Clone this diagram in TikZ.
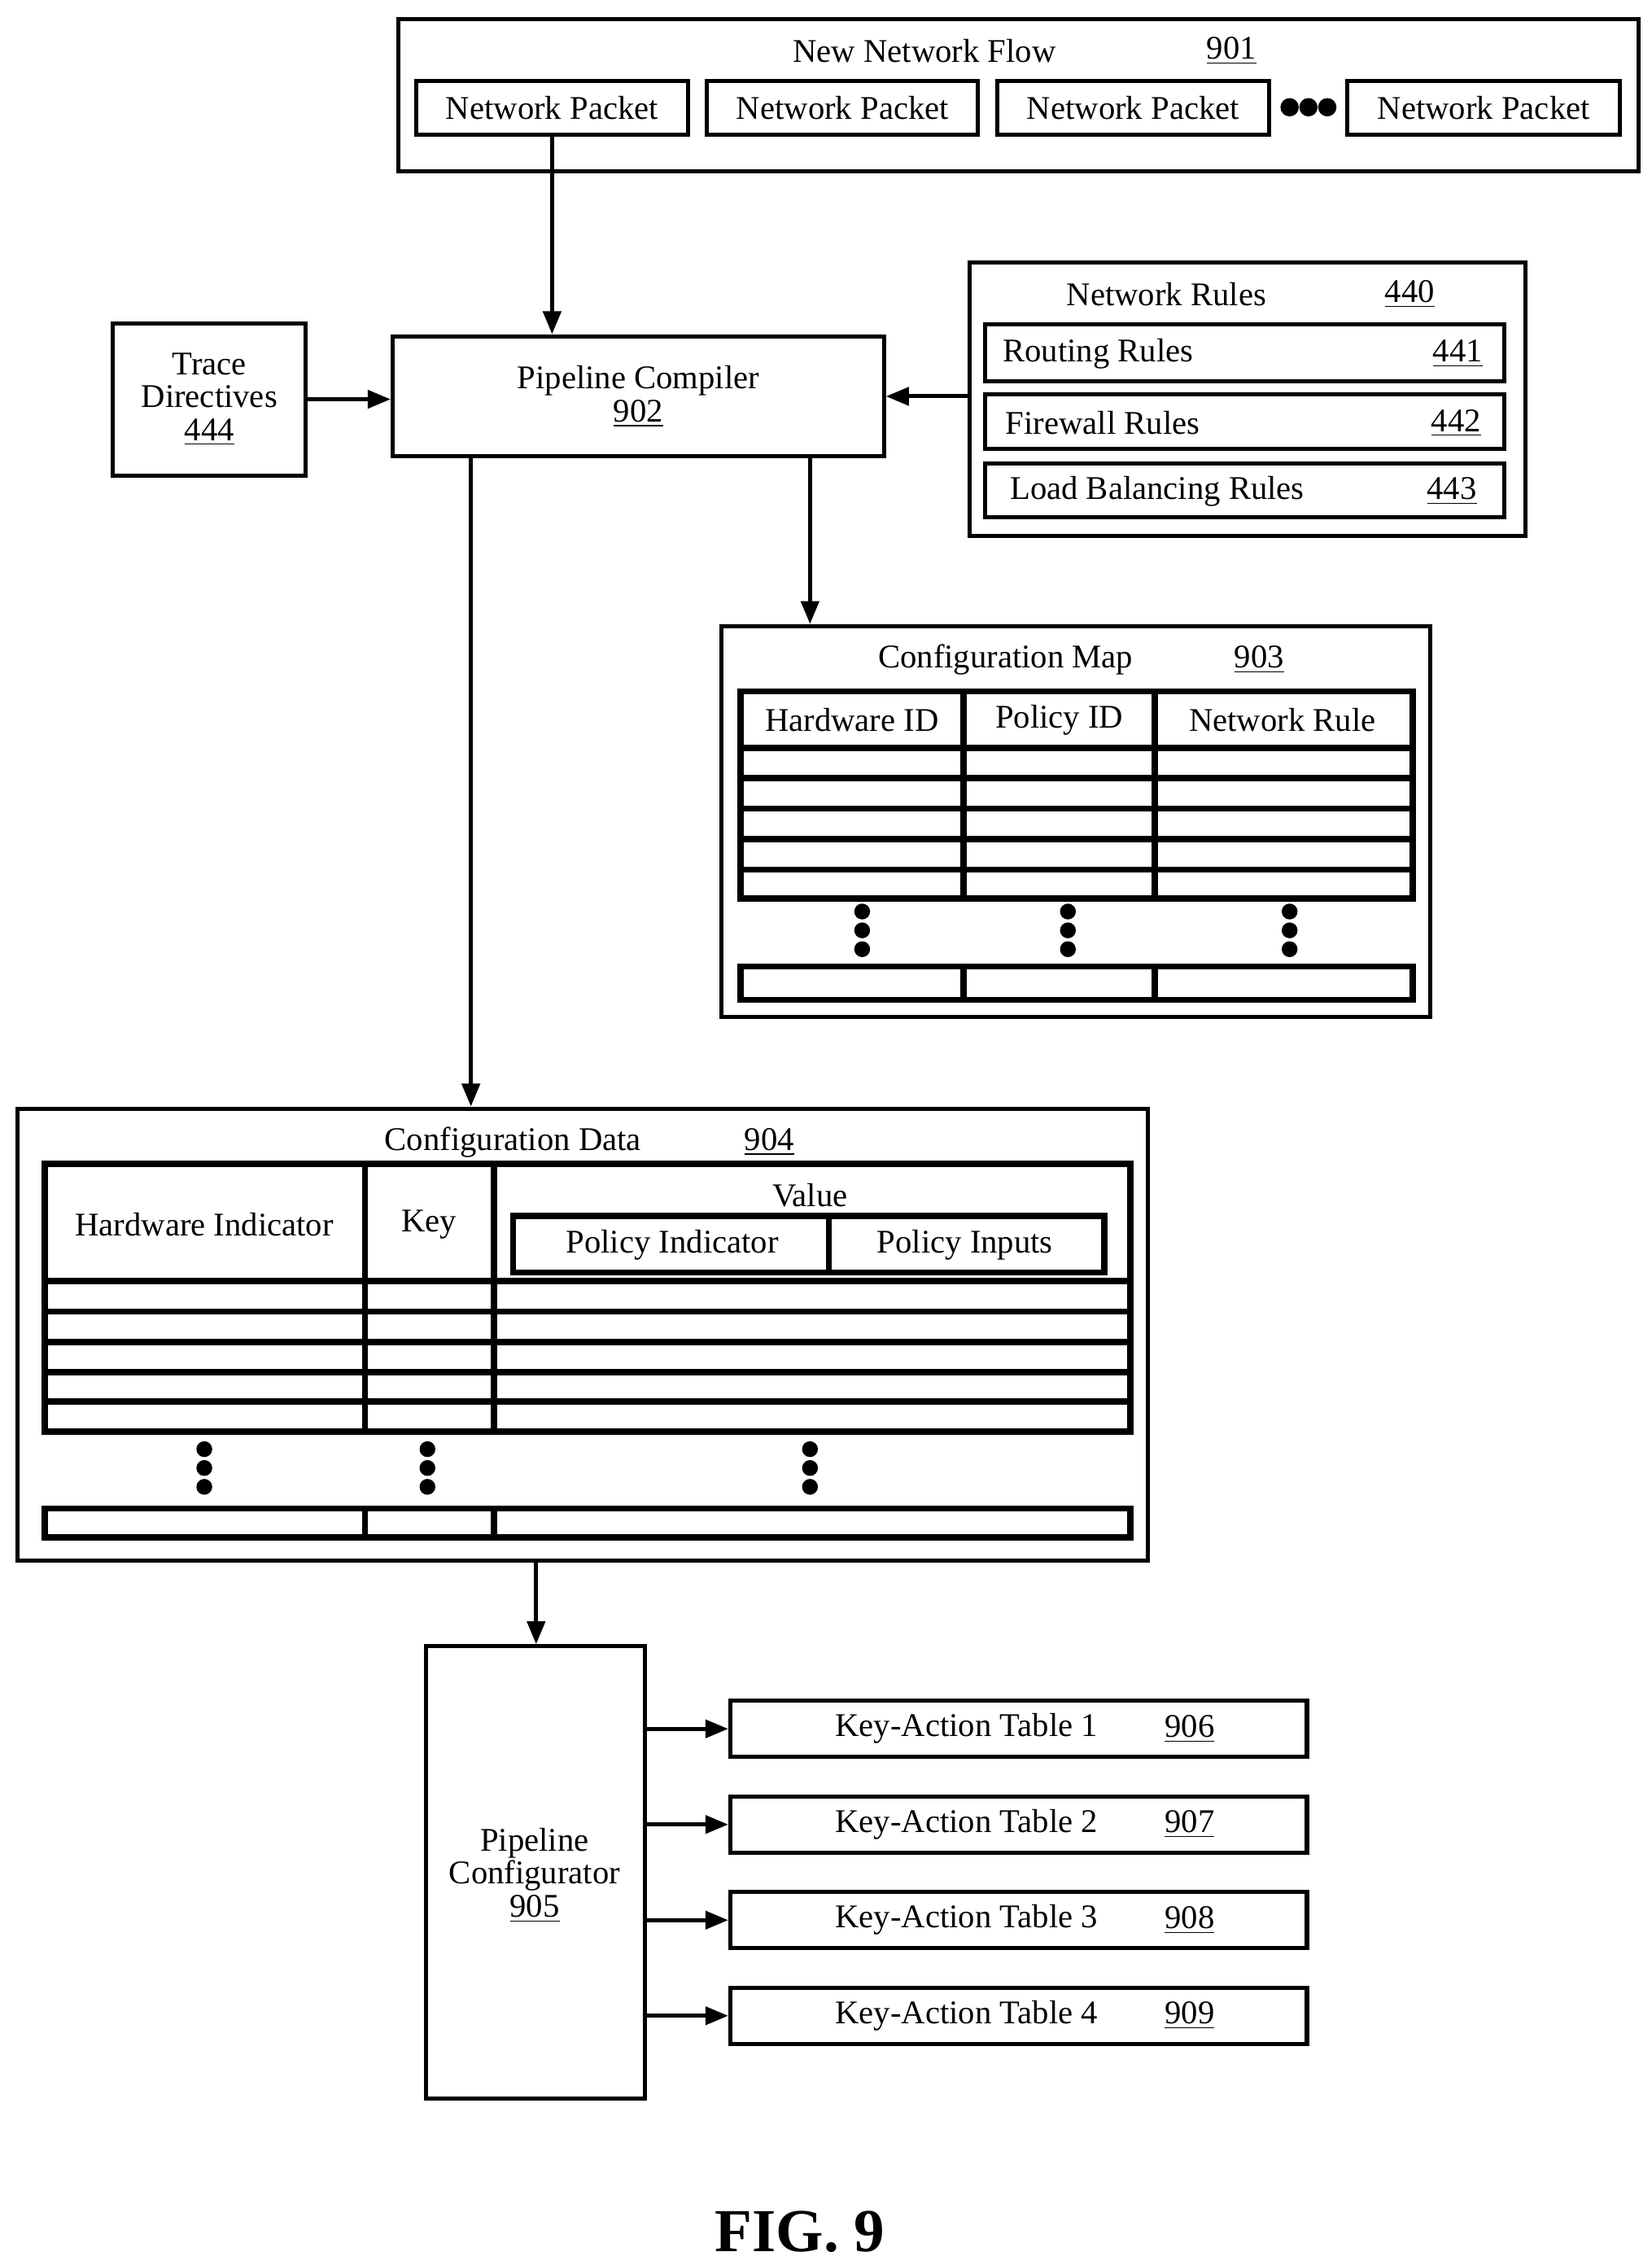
\documentclass[tikz,border=0pt]{standalone}
\usepackage{fontspec}
\setmainfont{Liberation Serif}
\usetikzlibrary{positioning,fit,arrows.meta}
\newcommand{\refnum}[1]{\underline{#1}}
\tikzset{>={Triangle[length=9pt,width=7pt]},
  box/.style={draw,line width=1.6pt,inner sep=0pt},
  tbl/.style={line width=2.4pt},
  lbl/.style={font=\fontsize{13}{15}\selectfont,inner sep=1pt},
  vdots/.style={fill,circle,inner sep=2.2pt},
  flow/.style={->,line width=1.6pt}}

\begin{document}
\begin{tikzpicture}[x=0.02cm,y=-0.02cm]
\useasboundingbox (0,0) rectangle (1140,1563);
% new network flow
\node[box,fit={(275,13) (1131,118)}] (flow) {};
\node[lbl] at (638,35) {New Network Flow};
\node[lbl] at (850,35) {\refnum{901}};
\node[box,fit={(287,56) (475,93)}] (pk1) {};
\node[box,fit={(488,56) (675,93)}] (pk2) {};
\node[box,fit={(688,56) (876,93)}] (pk3) {};
\node[box,fit={(930,56) (1118,93)}] (pk4) {};
\foreach \n in {1,2,3,4} \node[lbl] at (pk\n) {Network Packet};
\foreach \x in {890,903,916} \fill (\x,74) circle(3.6pt);
% compiler and inputs
\node[box,fit={(78,223) (211,328)}] (trace) {};
\node[lbl,align=center,font=\fontsize{13}{13}\selectfont] at (trace) {Trace\\Directives\\\refnum{444}};
\node[box,fit={(271,232) (610,315)}] (comp) {};
\node[lbl,align=center,font=\fontsize{13}{13}\selectfont] at (comp) {Pipeline Compiler\\\refnum{902}};
\node[box,fit={(669,181) (1053,370)}] (rules) {};
\node[lbl] at (805,203) {Network Rules};
\node[lbl] at (973,203) {\refnum{440}};
\node[box,fit={(680,224) (1038,263)}] (r1) {};
\node[box,fit={(680,272) (1038,310)}] (r2) {};
\node[box,fit={(680,320) (1038,357)}] (r3) {};
\node[lbl,anchor=west] at (690,244) {Routing Rules};
\node[lbl,anchor=west] at (692,292) {Firewall Rules};
\node[lbl,anchor=west] at (695,339) {Load Balancing Rules};
\node[lbl] at (1006,244) {\refnum{441}};
\node[lbl] at (1005,292) {\refnum{442}};
\node[lbl] at (1002,339) {\refnum{443}};
\draw[flow] (pk1.south) -- (pk1.south |- comp.north);
\draw[flow] (trace.east) -- (comp.west |- trace.east);
\draw[flow] (rules.west |- comp.east) -- (comp.east);
% configuration map
\node[box,fit={(498,432) (987,702)}] (map) {};
\node[lbl] at (694,455) {Configuration Map};
\node[lbl] at (869,455) {\refnum{903}};
\coordinate (mapin) at (559,315);
\draw[flow] (mapin) -- (mapin |- map.north);
\draw[tbl] (511,477) rectangle (975,620);
\foreach \y in {516,537,558,579,600} \draw[tbl] (511,\y) -- (975,\y);
\foreach \x in {665,797} \draw[tbl] (\x,477) -- (\x,620) (\x,667) -- (\x,690);
\draw[tbl] (511,667) rectangle (975,690);
\node[lbl] at (588,497) {Hardware ID};
\node[lbl] at (731,497) {Policy ID};
\node[lbl] at (885,497) {Network Rule};
\foreach \x in {595,737,890} \foreach \y in {629,642,655} \node[vdots] at (\x,\y) {};
% configuration data
\node[box,fit={(12,765) (792,1077)}] (data) {};
\node[lbl] at (354,788) {Configuration Data};
\node[lbl] at (531,788) {\refnum{904}};
\coordinate (datain) at (325,315);
\draw[flow] (datain) -- (datain |- data.north);
\draw[tbl] (31,803) rectangle (780,988);
\foreach \y in {884,905,926,947,967} \draw[tbl] (31,\y) -- (780,\y);
\foreach \x in {252,341} \draw[tbl] (\x,803) -- (\x,988) (\x,1041) -- (\x,1061);
\draw[tbl] (31,1041) rectangle (780,1061);
\node[lbl] at (141,845) {Hardware Indicator};
\node[lbl] at (296,845) {Key};
\node[lbl] at (559,825) {Value};
\draw[tbl] (354,839) rectangle (762,878) (572,839) -- (572,878);
\node[lbl] at (464,859) {Policy Indicator};
\node[lbl] at (666,859) {Policy Inputs};
\foreach \x in {141,295,559} \foreach \y in {1000,1013,1026} \node[vdots] at (\x,\y) {};
% configurator and tables
\node[box,fit={(294,1136) (445,1448)}] (conf) {};
\node[lbl,align=center,font=\fontsize{13}{13}\selectfont] at (369,1294) {Pipeline\\Configurator\\\refnum{905}};
\coordinate (confin) at (370,1077);
\draw[flow] (confin) -- (confin |- conf.north);
\foreach \n/\y/\k in {1/1193/906,2/1259/907,3/1325/908,4/1391/909} {
  \node[box,minimum width=7.96cm,minimum height=0.78cm] (kat\n) at (703,\y) {};
  \node[lbl] at (667,\y) {Key-Action Table \n};
  \node[lbl] at (821,\y) {\refnum{\k}};
  \draw[flow] (conf.east |- kat\n.west) -- (kat\n.west);
}
\node[font=\bfseries\fontsize{24}{26}\selectfont] (fig) at (552,1540) {FIG. 9};
\end{tikzpicture}
\end{document}
